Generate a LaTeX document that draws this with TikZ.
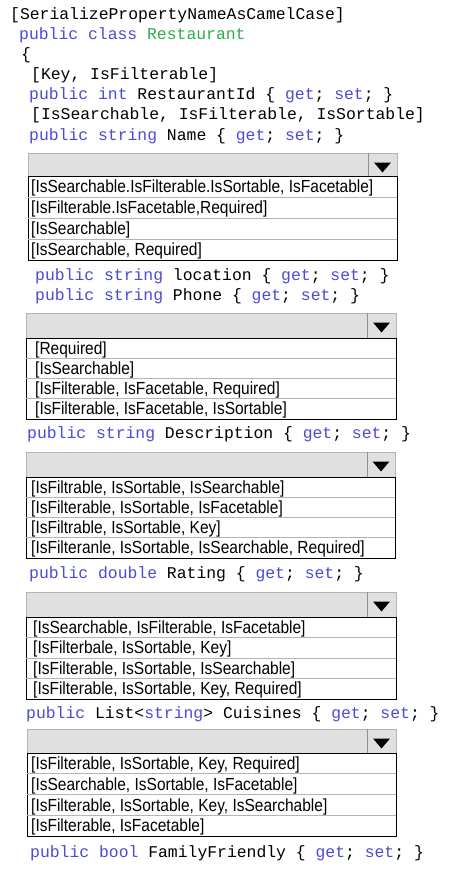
\documentclass[tikz,border=0pt]{standalone}
\usepackage{fontspec}
\newfontfamily\codefont{Liberation Mono}
\newfontfamily\optfont[FakeStretch=0.886]{Liberation Sans}
\definecolor{kwblue}{HTML}{4B4BD6}
\definecolor{typegreen}{HTML}{2BAE4A}
\definecolor{boxgray}{HTML}{E0E0E0}
\definecolor{rulegray}{HTML}{B4B4B4}
\definecolor{sepgray}{HTML}{909090}
\newcommand\kw[1]{\textcolor{kwblue}{#1}}
\tikzset{
  code/.style={anchor=base west, inner sep=0pt, font=\codefont\fontsize{16.4}{18}\selectfont},
  opt/.style={anchor=base west, inner sep=0pt, font=\optfont\fontsize{17.5}{19}\selectfont},
  header/.style={fill=boxgray, draw=rulegray, line width=1pt},
  listbox/.style={draw=black, line width=1pt},
  rowline/.style={draw=rulegray, line width=0.8pt},
  sepline/.style={draw=sepgray, line width=1pt}
}
\begin{document}
\begin{tikzpicture}[x=1pt,y=-1pt]
\fill [white] (0,0) rectangle (450,888);
\useasboundingbox (0,0) rectangle (450,888);
% class head
\node [code] (attr) at (10,20) {[SerializePropertyNameAsCamelCase]};
\node [code] (cls) at (19,40) {\kw{public} \kw{class} \textcolor{typegreen}{Restaurant}};
\node [code] (open) at (21,60) {\{};
\node [code] (keyattr) at (31,80) {[Key, IsFilterable]};
\node [code] (id) at (29,100) {\kw{public} \kw{int} RestaurantId \{ \kw{get}; \kw{set}; \}};
\node [code] (nameattr) at (31,120) {[IsSearchable, IsFilterable, IsSortable]};
\node [code] (name) at (29,140) {\kw{public} \kw{string} Name \{ \kw{get}; \kw{set}; \}};
% box 1
\draw [header] (28,153) rectangle (397,176);
\draw [sepline] (368,153) -- (368,176);
\fill [black] (374,162.5) -- (391,162.5) -- (382.5,172.5) -- cycle;
\draw [listbox] (28,176) rectangle (397,260);
\draw [rowline] (28,197) -- (397,197);
\draw [rowline] (28,218) -- (397,218);
\draw [rowline] (28,239) -- (397,239);
\node [opt] (a1) at (31,192.5) {[IsSearchable.IsFilterable.IsSortable, IsFacetable]};
\node [opt] (a2) at (31,213.5) {[IsFilterable.IsFacetable,Required]};
\node [opt] (a3) at (31,234.5) {[IsSearchable]};
\node [opt] (a4) at (31,255.5) {[IsSearchable, Required]};
\node [code] (location) at (35,280) {\kw{public} \kw{string} location \{ \kw{get}; \kw{set}; \}};
\node [code] (phone) at (35,300) {\kw{public} \kw{string} Phone \{ \kw{get}; \kw{set}; \}};
% box 2
\draw [header] (26,313) rectangle (396,338);
\draw [sepline] (367,313) -- (367,338);
\fill [black] (373,322.5) -- (390,322.5) -- (381.5,332.5) -- cycle;
\draw [listbox] (26,338) rectangle (396,419);
\draw [rowline] (26,358.3) -- (396,358.3);
\draw [rowline] (26,378.5) -- (396,378.5);
\draw [rowline] (26,398.8) -- (396,398.8);
\node [opt] (b1) at (35,354) {[Required]};
\node [opt] (b2) at (35,374) {[IsSearchable]};
\node [opt] (b3) at (35,394.5) {[IsFilterable, IsFacetable, Required]};
\node [opt] (b4) at (35,414.5) {[IsFilterable, IsFacetable, IsSortable]};
\node [code] (desc) at (27,438) {\kw{public} \kw{string} Description \{ \kw{get}; \kw{set}; \}};
% box 3
\draw [header] (26,452) rectangle (395,477);
\draw [sepline] (367,452) -- (367,477);
\fill [black] (372.5,461.5) -- (389.5,461.5) -- (381,471.5) -- cycle;
\draw [listbox] (26,477) rectangle (395,558);
\draw [rowline] (26,497.3) -- (395,497.3);
\draw [rowline] (26,517.5) -- (395,517.5);
\draw [rowline] (26,537.8) -- (395,537.8);
\node [opt] (c1) at (31,493) {[IsFiltrable, IsSortable, IsSearchable]};
\node [opt] (c2) at (31,513) {[IsFilterable, IsSortable, IsFacetable]};
\node [opt] (c3) at (31,533.5) {[IsFiltrable, IsSortable, Key]};
\node [opt] (c4) at (31,553.5) {[IsFilteranle, IsSortable, IsSearchable, Required]};
\node [code] (rating) at (29,578) {\kw{public} \kw{double} Rating \{ \kw{get}; \kw{set}; \}};
% box 4
\draw [header] (26,592) rectangle (396,617);
\draw [sepline] (367,592) -- (367,617);
\fill [black] (373,601.5) -- (390,601.5) -- (381.5,611.5) -- cycle;
\draw [listbox] (26,617) rectangle (396,699);
\draw [rowline] (26,637.5) -- (396,637.5);
\draw [rowline] (26,658) -- (396,658);
\draw [rowline] (26,678.5) -- (396,678.5);
\node [opt] (d1) at (33,633) {[IsSearchable, IsFilterable, IsFacetable]};
\node [opt] (d2) at (33,653.5) {[IsFilterbale, IsSortable, Key]};
\node [opt] (d3) at (33,674) {[IsFilterable, IsSortable, IsSearchable]};
\node [opt] (d4) at (33,694.5) {[IsFilterable, IsSortable, Key, Required]};
\node [code] (cuisines) at (26,718) {\kw{public} List<\kw{string}> Cuisines \{ \kw{get}; \kw{set}; \}};
% box 5
\draw [header] (27,729) rectangle (396,753);
\draw [sepline] (367,729) -- (367,753);
\fill [black] (373,738.5) -- (390,738.5) -- (381.5,748.5) -- cycle;
\draw [listbox] (27,753) rectangle (396,836);
\draw [rowline] (27,773.8) -- (396,773.8);
\draw [rowline] (27,794.5) -- (396,794.5);
\draw [rowline] (27,815.3) -- (396,815.3);
\node [opt] (e1) at (31,769.5) {[IsFilterable, IsSortable, Key, Required]};
\node [opt] (e2) at (31,790) {[IsSearchable, IsSortable, IsFacetable]};
\node [opt] (e3) at (31,811) {[IsFilterable, IsSortable, Key, IsSearchable]};
\node [opt] (e4) at (31,831.5) {[IsFilterable, IsFacetable]};
\node [code] (family) at (30,857) {\kw{public} \kw{bool} FamilyFriendly \{ \kw{get}; \kw{set}; \}};
\end{tikzpicture}
\end{document}
